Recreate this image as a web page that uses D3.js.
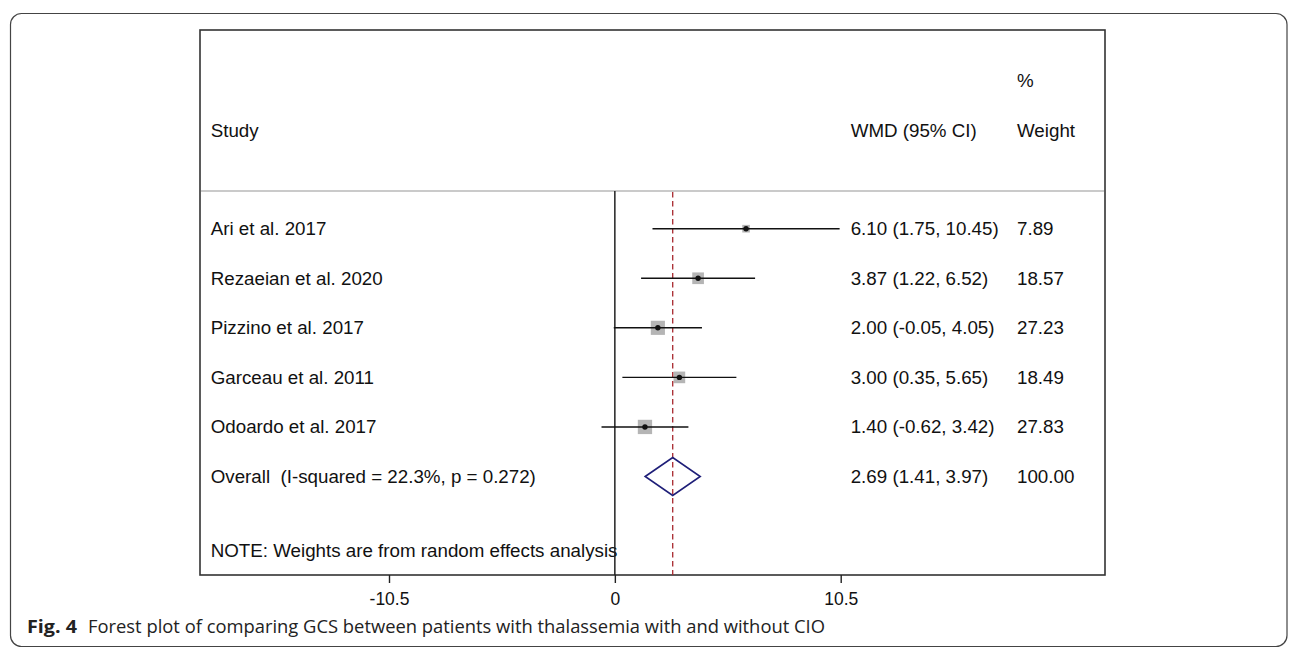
<!DOCTYPE html>
<html>
<head>
<meta charset="utf-8">
<script src="https://cdn.jsdelivr.net/npm/d3@7"></script>
<style>
  html, body { margin: 0; padding: 0; background: #fff; }
  svg { display: block; }
  text { white-space: pre; }
</style>
</head>
<body>
<svg id="chart" width="1296" height="649"></svg>
<script>
// ---- Data ----
const studies = ["Ari et al. 2017", "Rezaeian et al. 2020", "Pizzino et al. 2017", "Garceau et al. 2011", "Odoardo et al. 2017"];
const wmd = [6.10, 3.87, 2.00, 3.00, 1.40];
const lower = [1.75, 1.22, -0.05, 0.35, -0.62];
const upper = [10.45, 6.52, 4.05, 5.65, 3.42];
const weights = [7.89, 18.57, 27.23, 18.49, 27.83];
const overallLabel = "Overall  (I-squared = 22.3%, p = 0.272)";
const overallEst = 2.69, overallLo = 1.41, overallHi = 3.97, overallWeight = 100.00;
const tickValues = [-10.5, 0, 10.5];
const noteText = "NOTE: Weights are from random effects analysis";
const captionBold = "Fig. 4";
const captionText = "Forest plot of comparing GCS between patients with thalassemia with and without CIO";

// ---- Layout ----
const svg = d3.select("#chart");
const box = { left: 200, top: 30, right: 1105, bottom: 575 };
const headerLine = 191;
const FONT = "'Liberation Sans', Arial, sans-serif";
const fs = 18.75;

const x = d3.scaleLinear().domain([-10.5, 10.5]).range([389, 840.7]);
const y = d3.scaleLinear().domain([0, 5]).range([228.7, 476.5]);

const locale = d3.formatLocale({ decimal: ".", thousands: ",", grouping: [3], currency: ["", ""], minus: "-" });
const fmt = locale.format(".2f");
const tickFmt = locale.format(".1f");
const ciText = (e, l, u) => `${fmt(e)} (${fmt(l)}, ${fmt(u)})`;

// Outer rounded frame
svg.append("rect")
  .attr("x", 10.5).attr("y", 13.5)
  .attr("width", 1276.5).attr("height", 633)
  .attr("rx", 11).attr("ry", 11)
  .attr("fill", "none").attr("stroke", "#444").attr("stroke-width", 1.2);

// Plot box
svg.append("rect")
  .attr("x", box.left).attr("y", box.top)
  .attr("width", box.right - box.left).attr("height", box.bottom - box.top)
  .attr("fill", "none").attr("stroke", "#333").attr("stroke-width", 1.6);

// Header separator
svg.append("line")
  .attr("x1", box.left + 1).attr("x2", box.right - 1)
  .attr("y1", headerLine).attr("y2", headerLine)
  .attr("stroke", "#b8b8b8").attr("stroke-width", 1.4);

// Header text
const hdr = svg.append("g").attr("font-family", FONT).attr("font-size", fs).attr("fill", "#111");
hdr.append("text").attr("x", 210.7).attr("y", 137).text("Study");
hdr.append("text").attr("x", 850.7).attr("y", 137).text("WMD (95% CI)");
hdr.append("text").attr("x", 1017).attr("y", 87).text("%");
hdr.append("text").attr("x", 1017).attr("y", 137).text("Weight");

// Row text
const rows = svg.append("g").attr("font-family", FONT).attr("font-size", fs).attr("fill", "#111");
studies.forEach((s, i) => {
  rows.append("text").attr("x", 210.7).attr("y", y(i) + 6.3).text(s);
  rows.append("text").attr("x", 850.7).attr("y", y(i) + 6.3).text(ciText(wmd[i], lower[i], upper[i]));
  rows.append("text").attr("x", 1017).attr("y", y(i) + 6.3).text(fmt(weights[i]));
});
rows.append("text").attr("x", 210.7).attr("y", y(5) + 6.3).text(overallLabel);
rows.append("text").attr("x", 850.7).attr("y", y(5) + 6.3).text(ciText(overallEst, overallLo, overallHi));
rows.append("text").attr("x", 1017).attr("y", y(5) + 6.3).text(fmt(overallWeight));
rows.append("text").attr("x", 210.7).attr("y", 556.7).text(noteText);

// Weight squares
const k = 14.3 / Math.sqrt(d3.max(weights));
svg.append("g").selectAll("rect").data(studies).join("rect")
  .attr("x", (d, i) => x(wmd[i]) - k * Math.sqrt(weights[i]) / 2)
  .attr("y", (d, i) => y(i) - k * Math.sqrt(weights[i]) / 2)
  .attr("width", (d, i) => k * Math.sqrt(weights[i]))
  .attr("height", (d, i) => k * Math.sqrt(weights[i]))
  .attr("fill", "#b5b5b5");

// Zero line
svg.append("line")
  .attr("x1", x(0)).attr("x2", x(0))
  .attr("y1", headerLine).attr("y2", box.bottom)
  .attr("stroke", "#222").attr("stroke-width", 1.5);

// Overall dashed line
svg.append("line")
  .attr("x1", x(overallEst)).attr("x2", x(overallEst))
  .attr("y1", headerLine + 1).attr("y2", box.bottom)
  .attr("stroke", "#a8282e").attr("stroke-width", 1.3)
  .attr("stroke-dasharray", "5.5,3.5");

// CI lines
svg.append("g").selectAll("line").data(studies).join("line")
  .attr("x1", (d, i) => x(lower[i])).attr("x2", (d, i) => x(upper[i]))
  .attr("y1", (d, i) => y(i)).attr("y2", (d, i) => y(i))
  .attr("stroke", "#111").attr("stroke-width", 1.4);

// Point estimates
svg.append("g").selectAll("circle").data(studies).join("circle")
  .attr("cx", (d, i) => x(wmd[i])).attr("cy", (d, i) => y(i))
  .attr("r", 2.7).attr("fill", "#111");

// Overall diamond
const dy = 19;
svg.append("path")
  .attr("d", `M${x(overallLo)},${y(5)} L${x(overallEst)},${y(5) - dy} L${x(overallHi)},${y(5)} L${x(overallEst)},${y(5) + dy} Z`)
  .attr("fill", "none").attr("stroke", "#1e1e78").attr("stroke-width", 1.6);

// Axis
const axis = svg.append("g").attr("transform", `translate(0,${box.bottom})`)
  .call(d3.axisBottom(x).tickValues(tickValues).tickSize(8).tickFormat(d => d === 0 ? "0" : tickFmt(d)));
axis.select(".domain").remove();
axis.selectAll(".tick line").attr("stroke", "#222").attr("stroke-width", 1.4);
axis.selectAll(".tick text")
  .attr("font-family", FONT).attr("font-size", 17.5).attr("fill", "#111")
  .attr("y", 30).attr("dy", 0);

// Caption
svg.append("text").attr("x", 27).attr("y", 633)
  .attr("font-family", "'Open Sans', 'Noto Sans', sans-serif").attr("font-size", 18.5)
  .attr("font-weight", "bold").attr("fill", "#222")
  .attr("textLength", 50).attr("lengthAdjust", "spacingAndGlyphs")
  .text(captionBold);
svg.append("text").attr("x", 88).attr("y", 633)
  .attr("font-family", "'Open Sans', 'Noto Sans', sans-serif").attr("font-size", 18).attr("fill", "#222")
  .attr("textLength", 737).attr("lengthAdjust", "spacingAndGlyphs")
  .text(captionText);
</script>
</body>
</html>
